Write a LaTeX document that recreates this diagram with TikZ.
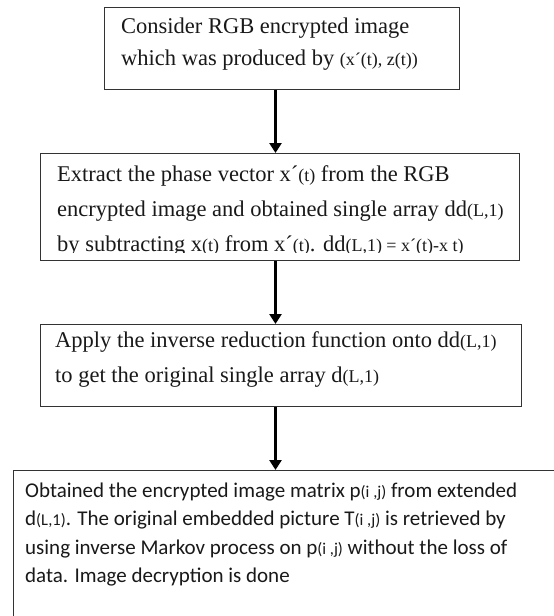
\documentclass[tikz,border=0pt]{standalone}
\usepackage{fontspec}
\setmainfont{Liberation Serif}
\newfontfamily\bodysans{Carlito}
\usetikzlibrary{arrows.meta}

% smaller type for function arguments such as (t), (L,1)
\newcommand{\argsm}[1]{{\fontsize{18}{18}\selectfont #1}}
\newcommand{\argsmsans}[1]{{\fontsize{16.5}{16.5}\selectfont #1}}

\tikzset{
  stepbox/.style={draw=black!80, line width=1.3pt, fill=white, inner sep=0pt,
                  anchor=north west},
  % text anchored at the baseline of its last line
  steptext/.style={anchor=base west, align=left, inner sep=0pt, text=black!90,
                   font=\fontsize{22.5}{32}\selectfont},
  sanstext/.style={anchor=base west, align=left, inner sep=0pt, text=black!90,
                   font=\bodysans\fontsize{21}{28.5}\selectfont},
  flow/.style={line width=3pt, -{Triangle[length=10pt,width=12pt]}}
}

\begin{document}
\begin{tikzpicture}[x=1pt,y=-1pt]
  \useasboundingbox (0,0) rectangle (554,616);
  \clip (0,0) rectangle (554,616);

  % process boxes
  \node[stepbox, minimum width=355pt, minimum height=82.5pt] (b1) at (104,6.5) {};
  \node[stepbox, minimum width=479pt, minimum height=107pt] (b2) at (40,153) {};
  \node[stepbox, minimum width=480.5pt, minimum height=82pt] (b3) at (40,324) {};
  \node[stepbox, minimum width=600pt, minimum height=200pt] (b4) at (13,470) {};

  % box texts
  \node[steptext] (t1) at (121,65)
    {Consider RGB encrypted image\\which was produced by \argsm{(x´(t), z(t))}};
  \begin{scope}
    % the last line runs into the lower edge of its box
    \clip (40,153) rectangle (519,252.5);
    \node[steptext, font=\fontsize{22.5}{35}\selectfont] (t2) at (57,251)
      {Extract the phase vector x´\argsm{(t)} from the RGB\\
       encrypted image and obtained single array dd\argsm{(L,1)}\\
       by subtracting x\argsm{(t)} from x´\argsm{(t)}. dd\argsm{(L,1) = x´(t)-x t)}};
  \end{scope}
  \node[steptext, font=\fontsize{22.5}{35}\selectfont] (t3) at (55,382)
    {Apply the inverse reduction function onto dd\argsm{(L,1)}\\
     to get the original single array d\argsm{(L,1)}};
  \node[sanstext] (t4) at (25,582.5)
    {Obtained the encrypted image matrix p\argsmsans{(i ,j)} from extended\\
     d\argsmsans{(L,1)}. The original embedded picture T\argsmsans{(i ,j)} is retrieved by\\
     using inverse Markov process on p\argsmsans{(i ,j)} without the loss of\\
     data. Image decryption is done};

  % connectors
  \coordinate (axis) at (275.5,0);
  \draw[flow] (b1.south -| axis) -- (b2.north -| axis);
  \draw[flow] (b2.south -| axis) -- (b3.north -| axis);
  \draw[flow] (b3.south -| axis) -- (b4.north -| axis);
\end{tikzpicture}
\end{document}
